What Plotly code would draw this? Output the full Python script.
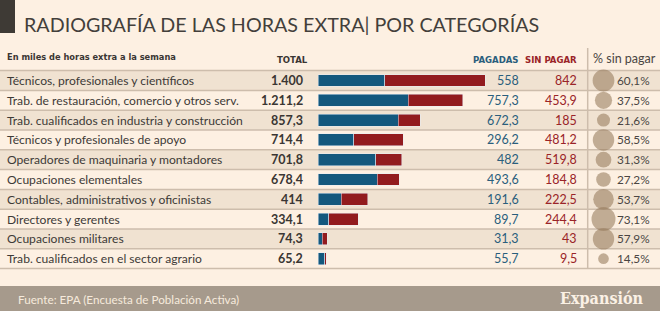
import plotly.graph_objects as go

categorias = [
    "Técnicos, profesionales y científicos",
    "Trab. de restauración, comercio y otros serv.",
    "Trab. cualificados en industria y construcción",
    "Técnicos y profesionales de apoyo",
    "Operadores de maquinaria y montadores",
    "Ocupaciones elementales",
    "Contables, administrativos y oficinistas",
    "Directores y gerentes",
    "Ocupaciones militares",
    "Trab. cualificados en el sector agrario",
]
total = [1400, 1211.2, 857.3, 714.4, 701.8, 678.4, 414, 334.1, 74.3, 65.2]
pagadas = [558, 757.3, 672.3, 296.2, 482, 493.6, 191.6, 89.7, 31.3, 55.7]
sin_pagar = [842, 453.9, 185, 481.2, 519.8, 184.8, 222.5, 244.4, 43, 9.5]
pct_sin_pagar = [60.1, 37.5, 21.6, 58.5, 31.3, 27.2, 53.7, 73.1, 57.9, 14.5]

W, H = 660, 311
BG = "#FDF0E2"
STRIPE = "#F0E2D1"
LINE = "#CDBDAC"
BLUE = "#14587D"
RED = "#921B1E"
BLUE_T = "#2A5E7C"
RED_T = "#9A2428"
FOOT = "#A69A8C"
FONT = "Lato"
NARROW = "DejaVu Sans Condensed, Roboto"


def fmt(v):
    s = f"{v:,.1f}" if abs(v - round(v)) > 1e-9 else f"{int(round(v)):,}"
    return s.replace(",", "X").replace(".", ",").replace("X", ".")


def py(px):
    return 1 - px / H


# bar scale: px per unit
k = 166.7 / 1400
x0px = 318.3
xr = [-x0px / k, (W - x0px) / k]
row_h = 19.8
c0 = 80.5
yr = [(H - c0) / row_h, -c0 / row_h]
CIRCLE_COL = 603.5  # horizontal centre of the circle column (px on x2)

resto = [t - p for t, p in zip(total, pagadas)]

fig = go.Figure()
fig.add_trace(go.Bar(y=categorias, x=pagadas, orientation="h", marker_color=BLUE,
                     width=0.6, hoverinfo="skip"))
fig.add_trace(go.Bar(y=categorias, x=resto, orientation="h", marker_color=RED,
                     width=0.6, hoverinfo="skip"))
sizes = [24 * (p / 73.1) ** 0.5 for p in pct_sin_pagar]
fig.add_trace(go.Scatter(x=[CIRCLE_COL] * len(categorias), y=categorias, mode="markers",
                         xaxis="x2", marker=dict(size=sizes, sizemode="diameter",
                                                 color="rgba(152,126,96,0.85)",
                                                 line=dict(width=0)),
                         hoverinfo="skip"))

shapes = []
for i, c in enumerate(categorias):
    if i % 2 == 0:
        shapes.append(dict(type="rect", xref="paper", yref="y", x0=0, x1=1,
                           y0=i - 0.5, y1=i + 0.5, fillcolor=STRIPE, line_width=0,
                           layer="below"))
for i in range(len(categorias) + 1):
    shapes.append(dict(type="line", xref="paper", yref="y", x0=0, x1=1,
                       y0=i - 0.5, y1=i - 0.5, line=dict(color=LINE, width=1.5),
                       layer="below"))
shapes.append(dict(type="line", xref="paper", yref="paper", x0=587.7 / W, x1=587.7 / W,
                   y0=py(48), y1=py(268), line=dict(color=LINE, width=1.5), layer="below"))
shapes.append(dict(type="rect", xref="paper", yref="paper", x0=0, x1=1, y0=0, y1=py(286),
                   fillcolor=FOOT, line_width=0, layer="below"))
shapes.append(dict(type="rect", xref="paper", yref="paper", x0=0, x1=15 / W, y0=py(33), y1=1,
                   fillcolor="#3E3A35", line_width=0, layer="below"))

ann = []
ann.append(dict(text="RADIOGRAFÍA DE LAS HORAS EXTRA| POR CATEGORÍAS", x=22 / W, y=py(25),
                xref="paper", yref="paper", xanchor="left", yanchor="middle", showarrow=False,
                font=dict(family=FONT, size=19.7, color="#433F3B")))
ann.append(dict(text="<b>En miles de horas extra a la semana</b>", x=5 / W, y=py(57),
                xref="paper", yref="paper", xanchor="left", yanchor="middle", showarrow=False,
                font=dict(family=NARROW, size=9.2, color="#3A3633")))
ann.append(dict(text="<b>TOTAL</b>", x=310 / W, y=py(59), xref="paper", yref="paper",
                xanchor="right", yanchor="middle", showarrow=False,
                font=dict(family=NARROW, size=9.5, color="#3A3633")))
ann.append(dict(text="<b>PAGADAS</b>", x=521 / W, y=py(60), xref="paper", yref="paper",
                xanchor="right", yanchor="middle", showarrow=False,
                font=dict(family=NARROW, size=9.5, color=BLUE_T)))
ann.append(dict(text="<b>SIN PAGAR</b>", x=578.5 / W, y=py(60), xref="paper", yref="paper",
                xanchor="right", yanchor="middle", showarrow=False,
                font=dict(family=NARROW, size=9.5, color=RED_T)))
ann.append(dict(text="% sin pagar", x=591 / W, y=py(58), xref="paper", yref="paper",
                xanchor="left", yanchor="middle", showarrow=False,
                font=dict(family=FONT, size=12.5, color="#4A4643")))

for i, c in enumerate(categorias):
    ann.append(dict(text=c, x=5 / W, y=c, xref="paper", yref="y", xanchor="left",
                    yanchor="middle", showarrow=False,
                    font=dict(family=FONT, size=12.1, color="#3D3A37")))
    ann.append(dict(text="<b>" + fmt(total[i]) + "</b>", x=305 / W, y=c, xref="paper",
                    yref="y", xanchor="right", yanchor="middle", showarrow=False,
                    font=dict(family=FONT, size=12.5, color="#3A3633")))
    ann.append(dict(text=fmt(pagadas[i]), x=520.5 / W, y=c, xref="paper", yref="y",
                    xanchor="right", yanchor="middle", showarrow=False,
                    font=dict(family=FONT, size=12.5, color=BLUE_T)))
    ann.append(dict(text=fmt(sin_pagar[i]), x=578.5 / W, y=c, xref="paper", yref="y",
                    xanchor="right", yanchor="middle", showarrow=False,
                    font=dict(family=FONT, size=12.5, color=RED_T)))
    ann.append(dict(text=fmt(pct_sin_pagar[i]) + "%", x=652 / W, y=c, xref="paper",
                    yref="y", xanchor="right", yanchor="middle", showarrow=False,
                    font=dict(family=FONT, size=11.8, color="#4A4643")))

ann.append(dict(text="Fuente: EPA (Encuesta de Población Activa)", x=16 / W, y=py(298.5),
                xref="paper", yref="paper", xanchor="left", yanchor="middle", showarrow=False,
                font=dict(family=FONT, size=11.7, color="#F6EADC")))
ann.append(dict(text="<b>Expansión</b>", x=646 / W, y=py(298), xref="paper", yref="paper",
                xanchor="right", yanchor="middle", showarrow=False,
                font=dict(family="DejaVu Serif Condensed, Liberation Serif, serif", size=16,
                          color="#FBF1E5")))

fig.update_layout(
    width=W, height=H, margin=dict(l=0, r=0, t=0, b=0),
    paper_bgcolor=BG, plot_bgcolor="rgba(0,0,0,0)", barmode="stack", showlegend=False,
    xaxis=dict(range=xr, domain=[0, 1], visible=False, fixedrange=True),
    xaxis2=dict(range=[0, W], overlaying="x", visible=False, anchor="y"),
    yaxis=dict(type="category", categoryorder="array", categoryarray=categorias,
               range=yr, visible=False),
    shapes=shapes, annotations=ann,
)
fig.write_html("out.html")
